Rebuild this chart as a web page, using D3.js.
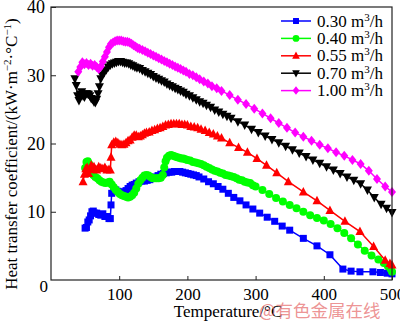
<!DOCTYPE html>
<html><head><meta charset="utf-8">
<script src="https://cdn.jsdelivr.net/npm/d3@7"></script>
<style>html,body{margin:0;padding:0;background:#fff}svg{display:block}</style>
</head><body>
<script>
// ---- data ----
const seriesLabels = ["0.30", "0.40", "0.55", "0.70", "1.00"];
const seriesColors = ["#0000ff", "#00ff00", "#ff0000", "#000000", "#ff00ff"];
const seriesMarkers = ["square", "circle", "triUp", "triDown", "diamond"];

const xTicks = [100, 200, 300, 400, 500];
const yTicks = [10, 20, 30, 40];

const temp030 = [50,52,54,56,58,60,62,64,67,70,73,76,79,82,85,87,88,89,92,95,98,101,104,107,110,113,116,119,122,125,129,133,137,141,145,149,153,157,161,165,169,173,177,181,185,189,193,197,201,205,209,213,217,224,231,238,245,252,260,268,277,286,296,306,317,328,339,350,370,390,409,428,440,453,472,483,493,500];
const htc030  = [7.6,7.7,8.5,8.8,9.4,10.0,10.1,9.8,9.8,9.6,9.5,9.7,9.3,9.3,9.0,9.0,11.0,12.7,13.0,13.2,13.0,12.8,12.9,12.9,13.1,13.4,13.7,13.9,14.0,14.2,14.4,14.5,14.5,14.6,14.7,14.9,15.1,15.3,15.5,15.6,15.7,15.8,15.8,15.9,15.9,15.9,15.8,15.7,15.6,15.5,15.4,15.3,15.1,14.8,14.4,14.1,13.7,13.3,12.7,12.1,11.6,11.0,10.4,9.8,9.2,8.6,7.9,7.3,6.1,5.0,3.7,1.6,1.3,1.2,1.2,1.1,1.0,0.9];

const temp040 = [50,52,54,56,58,60,62,65,68,71,74,77,80,83,86,89,92,95,98,101,104,107,110,113,116,119,122,125,128,131,134,137,140,143,146,149,152,155,158,161,164,166,168,170,173,176,179,182,185,188,191,194,197,200,204,208,212,216,220,224,228,232,236,240,244,248,252,256,260,264,268,272,276,280,284,288,292,296,300,310,320,330,340,350,360,370,380,390,400,410,420,430,440,450,460,470,480,488,494,498,500];
const htc040  = [16.4,17.3,17.4,17.0,16.6,15.9,15.4,15.1,14.9,14.6,14.4,14.3,14.2,14.3,14.4,14.0,13.6,13.2,12.9,12.6,12.4,12.3,12.2,12.1,12.2,12.4,12.8,13.4,14.1,14.6,15.0,15.3,15.4,15.3,15.1,14.9,14.9,14.9,14.9,15.0,15.4,16.5,17.4,17.9,18.2,18.3,18.2,18.1,18.0,17.9,17.8,17.8,17.7,17.6,17.5,17.3,17.2,17.1,17.0,16.8,16.6,16.4,16.2,16.0,15.9,15.7,15.6,15.4,15.3,15.2,15.1,14.9,14.7,14.6,14.4,14.3,14.2,13.9,13.7,13.2,12.6,12.0,11.5,11.0,10.5,10.0,9.5,9.1,8.7,8.2,7.6,6.9,6.1,5.2,4.3,3.6,3.0,2.5,2.0,1.6,1.2];

const temp055 = [47,49,51,53,55,57,59,61,63,65,67,70,73,76,79,82,85,87,88,89,92,95,98,101,104,107,110,113,116,119,122,125,128,131,134,137,140,144,148,152,156,160,164,168,172,176,180,184,188,192,196,200,205,210,215,220,226,232,238,244,250,262,275,288,302,316,331,348,370,390,409,431,453,473,490,497,500];
const htc055  = [14.4,15.5,16.3,16.5,15.6,16.2,16.8,16.4,16.6,16.2,16.1,16.6,16.4,16.3,16.5,16.1,16.2,16.1,18.0,19.8,20.2,20.3,20.1,19.9,19.8,19.9,20.1,20.4,20.5,20.9,21.2,21.2,21.0,21.1,21.3,21.5,21.6,21.7,21.9,22.0,22.2,22.3,22.5,22.7,22.8,22.9,22.9,22.9,22.9,22.8,22.8,22.7,22.5,22.4,22.3,22.1,21.9,21.6,21.4,21.1,20.8,20.1,19.4,18.7,17.8,16.8,15.7,14.4,12.9,11.6,10.2,8.6,7.1,4.9,2.9,2.4,2.2];

const temp070 = [35,37,39,41,43,45,47,49,51,53,55,57,59,61,63,65,67,69,71,73,75,78,81,84,87,90,93,96,99,102,105,108,111,114,117,120,123,126,130,134,138,142,146,150,154,158,162,166,170,174,178,182,186,190,194,198,203,208,213,218,223,228,234,240,246,252,258,264,274,284,294,304,314,324,334,344,354,364,374,384,394,404,414,424,434,444,454,464,474,484,492,500];
const htc070  = [29.5,28.5,27.0,26.3,27.2,27.6,27.0,26.8,27.3,27.3,27.2,27.0,26.6,26.5,26.1,26.0,26.5,27.3,28.3,29.5,30.0,30.4,30.8,31.2,31.5,31.7,31.8,31.9,32.0,32.0,31.9,31.8,31.8,31.7,31.5,31.4,31.2,31.1,31.0,30.7,30.5,30.3,30.1,29.8,29.6,29.4,29.2,29.0,28.7,28.5,28.3,28.1,27.9,27.7,27.5,27.2,27.0,26.7,26.4,26.1,25.9,25.6,25.3,24.9,24.6,24.3,24.0,23.7,23.2,22.7,22.1,21.6,21.1,20.6,20.1,19.6,19.1,18.6,18.1,17.6,17.1,16.6,16.1,15.6,15.1,14.6,14.1,13.2,12.1,11.1,10.5,9.9];

const temp100 = [40,43,46,49,52,55,58,61,64,67,70,73,76,79,82,85,88,91,94,97,100,103,106,109,112,115,118,121,124,127,130,134,138,142,146,150,154,158,162,166,170,174,178,182,186,190,194,198,203,208,213,218,224,230,236,243,250,262,274,286,298,310,322,334,346,358,370,382,394,406,418,430,442,454,466,478,490,500];
const htc100  = [30.5,31.2,31.9,31.6,31.8,31.5,31.7,31.4,31.5,31.2,30.9,31.3,32.0,32.7,33.4,34.1,34.6,34.8,35.0,35.1,35.1,35.1,35.0,34.9,34.9,34.8,34.6,34.4,34.2,34.0,33.9,33.7,33.5,33.3,33.1,32.9,32.7,32.5,32.3,32.1,31.9,31.7,31.5,31.3,31.1,30.9,30.7,30.5,30.2,30.0,29.7,29.4,29.1,28.8,28.4,28.1,27.7,27.1,26.4,25.8,25.1,24.4,23.7,23.0,22.3,21.6,21.0,20.4,19.8,19.3,18.7,18.2,17.6,17.0,16.0,14.8,13.7,12.9];

const seriesTemps = [temp030, temp040, temp055, temp070, temp100];
const seriesHtc = [htc030, htc040, htc055, htc070, htc100];

// ---- layout ----
const W = 400, H = 325;
const plot = {left: 51, right: 392, top: 7, bottom: 280};
const svg = d3.select("body").append("svg").attr("width", W).attr("height", H);
const x = d3.scaleLinear().domain([0, 500]).range([plot.left, plot.right]);
const y = d3.scaleLinear().domain([0, 40]).range([plot.bottom, plot.top]);
const FONT = "'Liberation Serif','Times New Roman',serif";

function markerPath(type) {
  switch (type) {
    case "square": return "M-3.5,-3.5H3.5V3.5H-3.5Z";
    case "circle": return "M4,0A4,4 0 1,1 -4,0A4,4 0 1,1 4,0Z";
    case "triUp": return "M0,-5L4.5,3.5L-4.5,3.5Z";
    case "triDown": return "M0,5L4.5,-3.5L-4.5,-3.5Z";
    case "diamond": return "M0,-5L4,0L0,5L-4,0Z";
  }
}

const series = seriesLabels.map((lab, i) => ({
  label: lab, color: seriesColors[i], marker: seriesMarkers[i],
  pts: seriesTemps[i].map((t, j) => ({t: t, v: seriesHtc[i][j]}))
}));

const line = d3.line().x(d => x(d.t)).y(d => y(d.v));

series.forEach(s => {
  const g = svg.append("g");
  g.append("path").attr("d", line(s.pts)).attr("fill", "none")
    .attr("stroke", s.color).attr("stroke-width", 1.5);
  g.selectAll("path.m").data(s.pts).enter().append("path").attr("class", "m")
    .attr("d", markerPath(s.marker))
    .attr("transform", d => `translate(${x(d.t)},${y(d.v)})`)
    .attr("fill", s.color);
});

// frame
svg.append("rect").attr("x", plot.left).attr("y", plot.top)
  .attr("width", plot.right - plot.left).attr("height", plot.bottom - plot.top)
  .attr("fill", "none").attr("stroke", "#222").attr("stroke-width", 1.2);

// x ticks (inward)
const xAxis = d3.axisBottom(x).tickValues(xTicks).tickSize(-4).tickPadding(8)
  .tickFormat(d3.format("d"));
const gx = svg.append("g").attr("transform", `translate(0,${plot.bottom})`).call(xAxis);
gx.select(".domain").remove();
gx.selectAll("line").attr("stroke", "#222");
gx.selectAll("text").attr("font-family", FONT).attr("font-size", 17).attr("fill", "#000");

// y ticks (inward)
const yAxis = d3.axisLeft(y).tickValues(yTicks).tickSize(-5).tickPadding(6)
  .tickFormat(d3.format("d"));
const gy = svg.append("g").attr("transform", `translate(${plot.left},0)`).call(yAxis);
gy.select(".domain").remove();
gy.selectAll("line").attr("stroke", "#222");
gy.selectAll("text").attr("font-family", FONT).attr("font-size", 18).attr("fill", "#000");

// origin label
svg.append("text").attr("x", 48).attr("y", 292).attr("text-anchor", "end")
  .attr("font-family", FONT).attr("font-size", 17).text("0");

// axis titles
svg.append("text").attr("x", 228).attr("y", 317).attr("text-anchor", "middle")
  .attr("font-family", FONT).attr("font-size", 17).text("Temperature/°C");

const yt = svg.append("text").attr("transform", "translate(17,154) rotate(-90)")
  .attr("text-anchor", "middle").attr("font-family", FONT).attr("font-size", 17);
yt.append("tspan").text("Heat transfer coefficient/(kW·m");
yt.append("tspan").attr("dy", -6).attr("font-size", 11).text("−2");
yt.append("tspan").attr("dy", 6).text("·°C");
yt.append("tspan").attr("dy", -6).attr("font-size", 11).text("−1");
yt.append("tspan").attr("dy", 6).text(")");

// legend
const legY0 = 21, legDy = 17.4;
series.forEach((s, i) => {
  const ly = legY0 + i * legDy;
  svg.append("line").attr("x1", 281).attr("x2", 311).attr("y1", ly).attr("y2", ly)
    .attr("stroke", s.color).attr("stroke-width", 1.5);
  svg.append("path").attr("d", markerPath(s.marker))
    .attr("transform", `translate(296,${ly}) scale(0.85)`).attr("fill", s.color);
  const t = svg.append("text").attr("x", 317).attr("y", ly + 5.5)
    .attr("font-family", FONT).attr("font-size", 17);
  t.append("tspan").text(s.label + " m");
  t.append("tspan").attr("dy", -6).attr("font-size", 11).text("3");
  t.append("tspan").attr("dy", 6).text("/h");
});

// watermark
svg.append("text").attr("x", 259).attr("y", 317)
  .attr("font-family", "'Noto Sans CJK SC',sans-serif").attr("font-size", 17.5)
  .attr("fill", "#e87878").attr("fill-opacity", 0.8).text("@有色金属在线");
</script>
</body></html>
